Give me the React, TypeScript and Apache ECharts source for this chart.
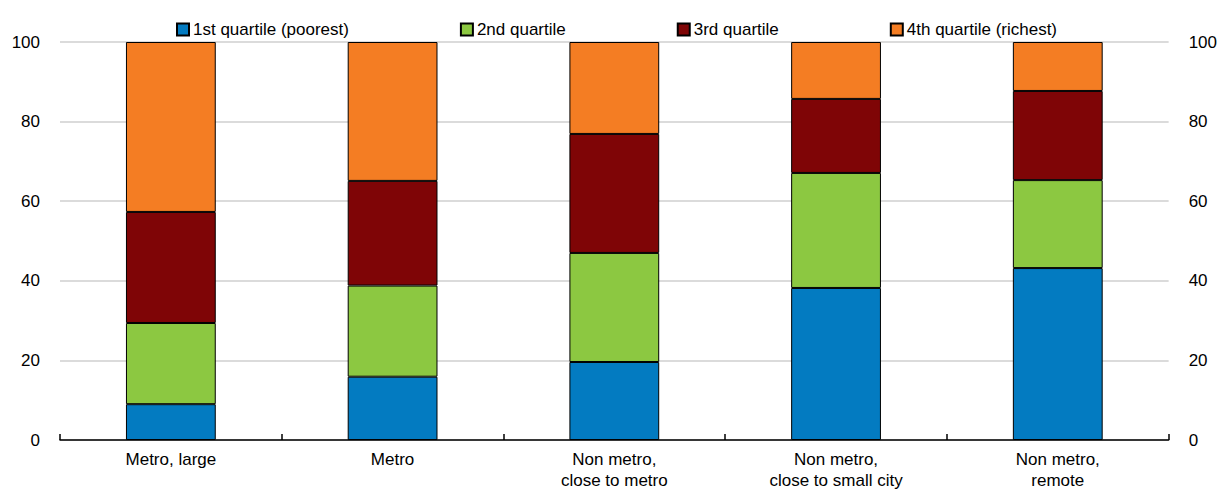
import React, { useEffect, useRef } from "react";
import * as echarts from "echarts";

const categories = [
  "Metro, large",
  "Metro",
  "Non metro,\nclose to metro",
  "Non metro,\nclose to small city",
  "Non metro,\nremote",
];
const seriesNames = [
  "1st quartile (poorest)",
  "2nd quartile",
  "3rd quartile",
  "4th quartile (richest)",
];
const q1 = [9.0, 15.9, 19.6, 38.2, 43.2];
const q2 = [20.4, 22.9, 27.4, 28.9, 22.1];
const q3 = [27.9, 26.3, 29.9, 18.6, 22.4];
const q4 = [42.7, 34.9, 23.1, 14.3, 12.3];
const colors = ["#037BC1", "#8CC841", "#7F0506", "#F47D23"];
const yTicks = { min: 0, max: 100, interval: 20 };

export default function App() {
  const ref = useRef<HTMLDivElement>(null);
  useEffect(() => {
    if (!ref.current) return;
    const chart = echarts.init(ref.current, undefined, { renderer: "svg" });
    const font = "'Liberation Sans', Arial, sans-serif";
    const values = [q1, q2, q3, q4];
    const yAxisBase = {
      type: "value" as const,
      min: yTicks.min,
      max: yTicks.max,
      interval: yTicks.interval,
      axisLine: { show: false },
      axisTick: { show: false },
      axisLabel: { color: "#000", fontSize: 17, fontFamily: font, margin: 20 },
    };
    chart.setOption({
      animation: false,
      textStyle: { fontFamily: font },
      legend: {
        left: 171,
        top: 16,
        icon: "rect",
        itemWidth: 12,
        itemHeight: 12,
        itemGap: 111,
        textStyle: { color: "#000", fontSize: 17, fontFamily: font, padding: [0, 0, 0, -1] },
        data: seriesNames,
      },
      grid: { left: 60, right: 50, top: 42, bottom: 52 },
      xAxis: {
        type: "category",
        data: categories,
        axisLine: { lineStyle: { color: "#000", width: 1.5 } },
        axisTick: { show: true, inside: true, length: 6, lineStyle: { color: "#000", width: 1.5 } },
        axisLabel: { color: "#000", fontSize: 17, fontFamily: font, margin: 9, lineHeight: 21 },
      },
      yAxis: [
        {
          ...yAxisBase,
          position: "left",
          splitLine: { show: true, lineStyle: { color: "#cfcfcf", width: 1.5 } },
        },
        {
          ...yAxisBase,
          position: "right",
          splitLine: { show: false },
        },
      ],
      series: seriesNames.map((name, i) => ({
        name,
        type: "bar",
        stack: "total",
        barWidth: "40.5%",
        data: values[i],
        itemStyle: { color: colors[i], borderColor: "#000", borderWidth: 1 },
      })),
    });
    return () => chart.dispose();
  }, []);
  return (
    <div
      ref={ref}
      style={{ position: "fixed", left: 0, top: 0, width: 1220, height: 492, background: "#fff" }}
    />
  );
}
